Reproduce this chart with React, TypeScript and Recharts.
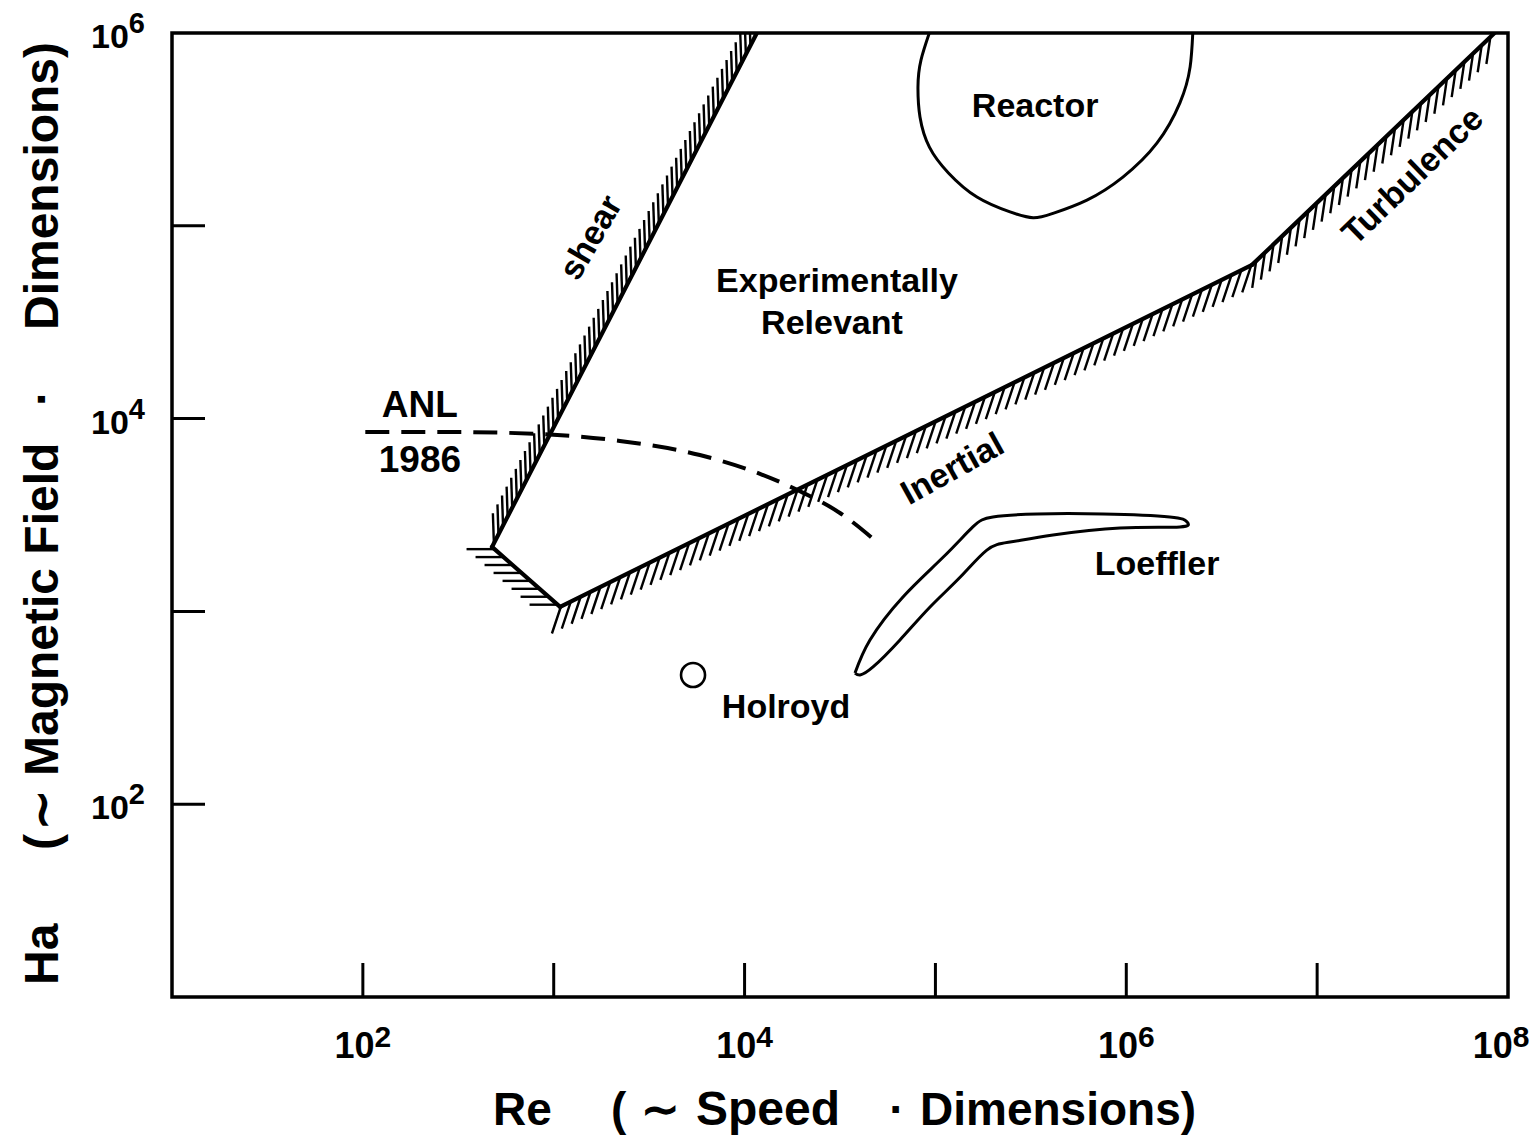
import React from 'react';
import { ComposedChart, XAxis, YAxis, Line, Scatter, ReferenceLine, ReferenceArea, Label } from 'recharts';

const FONT = '"Liberation Sans", Arial, Helvetica, sans-serif';

// axis ticks
const xTicks = [10, 100, 1e3, 1e4, 1e5, 1e6, 1e7, 1e8];
const xTickExp = ['', '2', '', '4', '', '6', '', '8'];
const yTicks = [10, 100, 1e3, 1e4, 1e5, 1e6];
const yTickExp = ['', '2', '', '4', '', '6'];

// boundary vertices (Re, Ha)
const shearBoundary = [{ x: 475, y: 2160 }, { x: 1.16e4, y: 1e6 }];
const cornerBoundary = [{ x: 475, y: 2160 }, { x: 1080, y: 1055 }];
const inertialBoundary = [{ x: 1080, y: 1055 }, { x: 4.56e6, y: 6.27e4 }];
const turbulenceBoundary = [{ x: 4.56e6, y: 6.27e4 }, { x: 8.5e7, y: 1e6 }];

// ANL 1986 dashed curve
const anlCurve = [
  { x: 103, y: 8520 }, { x: 286, y: 8520 }, { x: 847, y: 8320 }, { x: 2220, y: 7660 },
  { x: 5830, y: 6470 }, { x: 1.205e4, y: 5170 }, { x: 1.95e4, y: 4200 }, { x: 3.16e4, y: 3240 },
  { x: 5.0e4, y: 2265 },
];

// Reactor region outline
const reactorCurve = [
  { x: 9.6e4, y: 1.1e6 }, { x: 8.4e4, y: 7.24e5 }, { x: 8.1e4, y: 5.25e5 }, { x: 8.3e4, y: 3.67e5 },
  { x: 9.3e4, y: 2.56e5 }, { x: 1.17e5, y: 1.88e5 }, { x: 1.65e5, y: 1.41e5 }, { x: 2.46e5, y: 1.18e5 },
  { x: 3.25e5, y: 1.1e5 }, { x: 4.13e5, y: 1.16e5 }, { x: 6.22e5, y: 1.36e5 }, { x: 9.6e5, y: 1.79e5 },
  { x: 1.45e6, y: 2.69e5 }, { x: 1.91e6, y: 4.34e5 }, { x: 2.16e6, y: 6.67e5 }, { x: 2.24e6, y: 1.1e6 },
];

// Loeffler closed outline
const loefflerCurve = [
  { x: 3.79e4, y: 479 }, { x: 4.54e4, y: 711 }, { x: 6.76e4, y: 1189 }, { x: 1.1e5, y: 1914 },
  { x: 1.57e5, y: 2742 }, { x: 2.0e5, y: 3090 }, { x: 3.41e5, y: 3200 }, { x: 7.55e5, y: 3200 },
  { x: 1.69e6, y: 3090 }, { x: 2.08e6, y: 2911 }, { x: 1.91e6, y: 2742 }, { x: 9.27e5, y: 2710 },
  { x: 4.13e5, y: 2490 }, { x: 2.46e5, y: 2290 }, { x: 1.86e5, y: 2080 }, { x: 1.35e5, y: 1507 },
  { x: 9.37e4, y: 1054 }, { x: 6.52e4, y: 711 }, { x: 4.71e4, y: 515 }, { x: 4.03e4, y: 468 },
  { x: 3.79e4, y: 479 },
];

// Holroyd point
const holroydPoint = [{ x: 5370, y: 468 }];

// text annotations
const annotations = [
  { x: 3.33e5, y: 4.24e5, text: 'Reactor', angle: 0 },
  { x: 3.05e4, y: 5.24e4, text: 'Experimentally', angle: 0 },
  { x: 2.87e4, y: 3.17e4, text: 'Relevant', angle: 0 },
  { x: 199, y: 1.18e4, text: 'ANL', angle: 0 },
  { x: 199, y: 6170, text: '1986', angle: 0 },
  { x: 1.45e6, y: 1782, text: 'Loeffler', angle: 0 },
  { x: 1.65e4, y: 323, text: 'Holroyd', angle: 0 },
  { x: 1549, y: 8.75e4, text: 'shear', angle: -60 },
  { x: 1.22e5, y: 5545, text: 'Inertial', angle: -29 },
  { x: 3.14e7, y: 1.83e5, text: 'Turbulence', angle: -44 },
];
const largeAnnotations = ['ANL', '1986'];

function hatched(spacing: number, hx: number, hy: number) {
  return (props: any) => {
    const { x1, y1, x2, y2, clipPath } = props;
    const dx = x2 - x1;
    const dy = y2 - y1;
    const len = Math.hypot(dx, dy);
    const n = Math.floor(len / spacing);
    const off = (len - n * spacing) / 2;
    const marks: any[] = [];
    for (let i = 0; i <= n; i++) {
      const t = (off + i * spacing) / len;
      const px = x1 + dx * t;
      const py = y1 + dy * t;
      marks.push(<line key={i} x1={px} y1={py} x2={px + hx} y2={py + hy} stroke="#000" strokeWidth={2.4} />);
    }
    return (
      <g clipPath={clipPath}>
        {marks}
        <line x1={x1} y1={y1} x2={x2} y2={y2} stroke="#000" strokeWidth={4.2} strokeLinecap="round" />
      </g>
    );
  };
}

const XTick = (props: any) => {
  const { x, y, index } = props;
  const exp = xTickExp[index];
  const last = index === xTicks.length - 1;
  const mark = index > 0 && !last;
  return (
    <g>
      {mark && <line x1={x} y1={y} x2={x} y2={y - 34} stroke="#000" strokeWidth={3} />}
      {exp && (
        <text x={last ? x - 7 : x} y={y + 61} textAnchor="middle" fontFamily={FONT} fontWeight="bold" fontSize={36} fill="#000">
          10<tspan dy={-11} fontSize={30}>{exp}</tspan>
        </text>
      )}
    </g>
  );
};

const YTick = (props: any) => {
  const { x, y, index } = props;
  const exp = yTickExp[index];
  const mark = index > 0 && index < yTicks.length - 1;
  return (
    <g>
      {mark && <line x1={x} y1={y} x2={x + 33} y2={y} stroke="#000" strokeWidth={3} />}
      {exp && (
        <text x={x - 27} y={y + 15} textAnchor="end" fontFamily={FONT} fontWeight="bold" fontSize={34} fill="#000">
          10<tspan dy={-15} fontSize={29}>{exp}</tspan>
        </text>
      )}
    </g>
  );
};

const titleStyle = { fontFamily: FONT, fontWeight: 'bold' as const, fontSize: 46, fill: '#000' };
const yTitleStyle = { ...titleStyle, fontSize: 48 };

const XTitle = () => (
  <g>
    <text x={493} y={1125} {...titleStyle}>Re</text>
    <text x={611} y={1125} {...titleStyle}>(</text>
    <text x={660} y={1125} textAnchor="middle" {...titleStyle}>∼</text>
    <text x={696} y={1125} {...titleStyle} fontSize={48}>Speed</text>
    <text x={897} y={1125} textAnchor="middle" {...titleStyle}>·</text>
    <text x={920} y={1125} {...titleStyle}>Dimensions)</text>
  </g>
);

const yPiece = (text: string, start: number, anchor: 'start' | 'middle' = 'start') => (
  <text transform={`translate(58, ${start}) rotate(-90)`} textAnchor={anchor} {...yTitleStyle}>{text}</text>
);

const YTitle = () => (
  <g>
    {yPiece('Ha', 985)}
    {yPiece('(', 850)}
    {yPiece('∼', 810, 'middle')}
    {yPiece('Magnetic Field', 776)}
    {yPiece('·', 398, 'middle')}
    {yPiece('Dimensions)', 330)}
  </g>
);

const AnnotationShape = (props: any) => {
  const { cx, cy, payload } = props;
  const size = largeAnnotations.includes(payload.text) ? 37 : 34;
  return (
    <text
      x={cx}
      y={cy}
      textAnchor="middle"
      dominantBaseline="central"
      transform={payload.angle ? `rotate(${payload.angle}, ${cx}, ${cy})` : undefined}
      fontFamily={FONT}
      fontWeight="bold"
      fontSize={size}
      fill="#000"
    >
      {payload.text}
    </text>
  );
};

const CircleShape = (props: any) => (
  <circle cx={props.cx} cy={props.cy} r={12} fill="#fff" stroke="#000" strokeWidth={2.6} />
);

export default function App() {
  return (
    <div style={{ position: 'absolute', left: 0, top: 0, background: '#fff' }}>
      <ComposedChart width={1533} height={1136} margin={{ top: 33, right: 25, bottom: 0, left: 0 }}>
        <XAxis
          dataKey="x"
          type="number"
          scale="log"
          domain={[10, 1e8]}
          ticks={xTicks}
          interval={0}
          allowDataOverflow
          height={139}
          axisLine={false}
          tickLine={false}
          tickSize={0}
          tickMargin={0}
          tick={<XTick />}
        >
          <Label content={<XTitle />} />
        </XAxis>
        <YAxis
          dataKey="y"
          type="number"
          scale="log"
          domain={[10, 1e6]}
          ticks={yTicks}
          interval={0}
          allowDataOverflow
          width={172}
          axisLine={false}
          tickLine={false}
          tickSize={0}
          tickMargin={0}
          tick={<YTick />}
        >
          <Label content={<YTitle />} />
        </YAxis>
        <ReferenceLine segment={shearBoundary} ifOverflow="hidden" shape={hatched(10, -1, -30)} />
        <ReferenceLine segment={cornerBoundary} ifOverflow="hidden" shape={hatched(12, -28, 0)} />
        <ReferenceLine segment={inertialBoundary} ifOverflow="hidden" shape={hatched(11, -9, 27)} />
        <ReferenceLine segment={turbulenceBoundary} ifOverflow="hidden" shape={hatched(12, -4, 27)} />
        <Line data={anlCurve} dataKey="y" type="monotone" stroke="#000" strokeWidth={4} strokeDasharray="24 12" dot={false} activeDot={false} isAnimationActive={false} />
        <Line data={reactorCurve} dataKey="y" type="natural" stroke="#000" strokeWidth={3} dot={false} activeDot={false} isAnimationActive={false} />
        <Line data={loefflerCurve} dataKey="y" type="natural" stroke="#000" strokeWidth={3} dot={false} activeDot={false} isAnimationActive={false} />
        <Scatter data={holroydPoint} shape={CircleShape} isAnimationActive={false} />
        <Scatter data={annotations} shape={AnnotationShape} isAnimationActive={false} />
        <ReferenceArea x1={10} x2={1e8} y1={10} y2={1e6} fill="none" stroke="#000" strokeWidth={3.5} ifOverflow="visible" />
      </ComposedChart>
    </div>
  );
}
